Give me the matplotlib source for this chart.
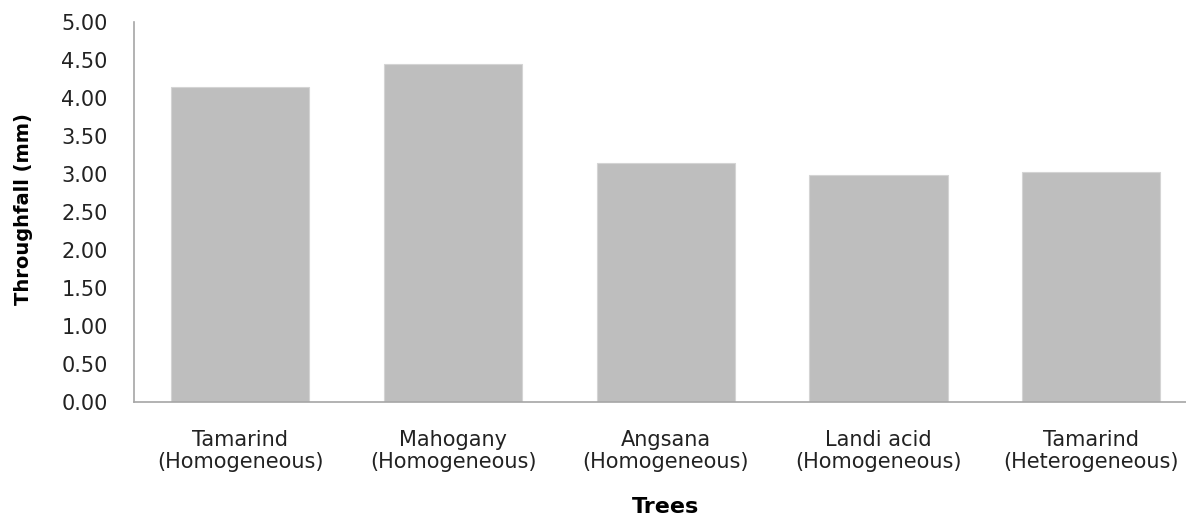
import matplotlib
matplotlib.use("Agg")
import matplotlib.pyplot as plt
from matplotlib.ticker import FormatStrFormatter

categories = ["Tamarind\n(Homogeneous)", "Mahogany\n(Homogeneous)", "Angsana\n(Homogeneous)",
              "Landi acid\n(Homogeneous)", "Tamarind\n(Heterogeneous)"]
values = [4.15, 4.45, 3.14, 2.99, 3.02]
yticks = [0.0, 0.5, 1.0, 1.5, 2.0, 2.5, 3.0, 3.5, 4.0, 4.5, 5.0]

plt.rcParams['font.family'] = ['DejaVu Sans']

W, H = 1186, 522
fig = plt.figure(figsize=(W / 100, H / 100), dpi=100)
left, right, top, bottom = 134, 1197.5, 22, 402
ax = fig.add_axes([left / W, 1 - bottom / H, (right - left) / W, (bottom - top) / H])

x = list(range(len(categories)))
ax.bar(x, values, width=0.65, color='#bebebe', edgecolor='#d4d4d4', linewidth=0.8)
ax.set_xlim(-0.5, len(categories) - 0.5)
ax.set_ylim(0, 5.0)
ax.set_yticks(yticks)
ax.yaxis.set_major_formatter(FormatStrFormatter('%.2f'))
ax.set_xticks(x)
ax.set_xticklabels(categories, fontsize=15, color='#222222', linespacing=1.12)

for s in ['top', 'right']:
    ax.spines[s].set_visible(False)
for s in ['left', 'bottom']:
    ax.spines[s].set_color('#a6a6a6')
    ax.spines[s].set_linewidth(1.2)

ax.tick_params(axis='y', length=0, pad=19, labelsize=15, labelcolor='#222222')
ax.tick_params(axis='x', length=0, pad=20)

ax.set_ylabel("Throughfall (mm)", fontsize=14, fontweight='bold')
ax.set_xlabel("Trees", fontsize=16, fontweight='bold')
ax.xaxis.set_label_coords((666 - left) / (right - left), -(497 - bottom) / (bottom - top))
ax.yaxis.set_label_coords(-(134 - 33) / (right - left), (bottom - 209) / (bottom - top))

fig.savefig("out.png", dpi=100)
